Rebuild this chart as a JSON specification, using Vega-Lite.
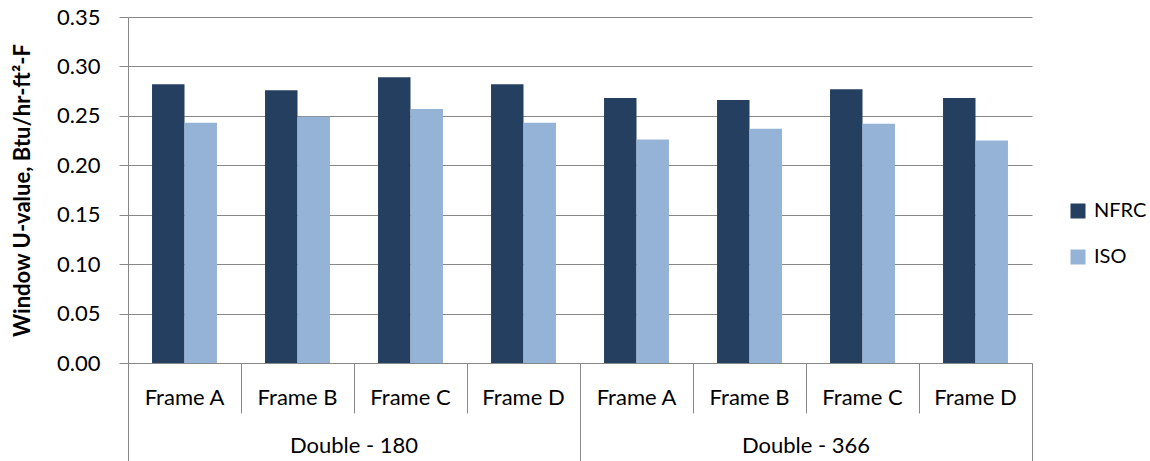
{
  "$schema": "https://vega.github.io/schema/vega-lite/v6.json",
  "width": 904,
  "height": 346,
  "autosize": {"type": "none"},
  "padding": {"left": 128, "top": 17, "right": 118, "bottom": 98},
  "config": {"view": {"stroke": null}, "font": "Lato"},
  "datasets": {
    "bars": [
      {"glass": "Double - 180", "frame": "Frame A", "key": "Double - 180|Frame A", "series": "NFRC", "u": 0.282},
      {"glass": "Double - 180", "frame": "Frame A", "key": "Double - 180|Frame A", "series": "ISO", "u": 0.243},
      {"glass": "Double - 180", "frame": "Frame B", "key": "Double - 180|Frame B", "series": "NFRC", "u": 0.276},
      {"glass": "Double - 180", "frame": "Frame B", "key": "Double - 180|Frame B", "series": "ISO", "u": 0.249},
      {"glass": "Double - 180", "frame": "Frame C", "key": "Double - 180|Frame C", "series": "NFRC", "u": 0.289},
      {"glass": "Double - 180", "frame": "Frame C", "key": "Double - 180|Frame C", "series": "ISO", "u": 0.257},
      {"glass": "Double - 180", "frame": "Frame D", "key": "Double - 180|Frame D", "series": "NFRC", "u": 0.282},
      {"glass": "Double - 180", "frame": "Frame D", "key": "Double - 180|Frame D", "series": "ISO", "u": 0.243},
      {"glass": "Double - 366", "frame": "Frame A", "key": "Double - 366|Frame A", "series": "NFRC", "u": 0.268},
      {"glass": "Double - 366", "frame": "Frame A", "key": "Double - 366|Frame A", "series": "ISO", "u": 0.226},
      {"glass": "Double - 366", "frame": "Frame B", "key": "Double - 366|Frame B", "series": "NFRC", "u": 0.266},
      {"glass": "Double - 366", "frame": "Frame B", "key": "Double - 366|Frame B", "series": "ISO", "u": 0.237},
      {"glass": "Double - 366", "frame": "Frame C", "key": "Double - 366|Frame C", "series": "NFRC", "u": 0.277},
      {"glass": "Double - 366", "frame": "Frame C", "key": "Double - 366|Frame C", "series": "ISO", "u": 0.242},
      {"glass": "Double - 366", "frame": "Frame D", "key": "Double - 366|Frame D", "series": "NFRC", "u": 0.268},
      {"glass": "Double - 366", "frame": "Frame D", "key": "Double - 366|Frame D", "series": "ISO", "u": 0.225}
    ],
    "groups": [{"glass": "Double - 180"}, {"glass": "Double - 366"}],
    "ends": [{"p": 1}]
  },
  "layer": [
    {
      "data": {"name": "bars"},
      "mark": {"type": "bar"},
      "encoding": {
        "x": {
          "field": "key", "type": "nominal", "sort": null,
          "scale": {"paddingInner": 0, "paddingOuter": 0},
          "axis": {
            "orient": "bottom", "title": null,
            "labelExpr": "split(datum.label,'|')[1]",
            "labelAngle": 0, "labelFontSize": 22, "labelColor": "#000", "labelFont": "Lato",
            "labelBaseline": "middle", "labelPadding": -16,
            "tickSize": 50, "tickColor": "#888888", "bandPosition": 0,
            "domainColor": "#888888", "grid": false
          }
        },
        "xOffset": {
          "field": "series", "type": "nominal", "sort": ["NFRC", "ISO"],
          "scale": {"paddingInner": 0, "paddingOuter": 0.74}
        },
        "y": {
          "field": "u", "type": "quantitative",
          "scale": {"domain": [0, 0.35], "nice": false},
          "axis": {
            "title": "Window U-value, Btu/hr-ft²-F",
            "titleFontSize": 22, "titleFontWeight": "bold", "titleColor": "#000", "titleFont": "Lato",
            "titlePadding": 22,
            "values": [0, 0.05, 0.1, 0.15, 0.2, 0.25, 0.3, 0.35],
            "format": ".2f",
            "labelFontSize": 22, "labelColor": "#000", "labelFont": "Lato", "labelPadding": 19,
            "tickSize": 9, "tickColor": "#888888", "domainColor": "#888888",
            "gridColor": "#888888"
          }
        },
        "color": {
          "field": "series", "type": "nominal", "sort": ["NFRC", "ISO"],
          "scale": {"domain": ["NFRC", "ISO"], "range": ["#243F60", "#95B3D7"]},
          "legend": {
            "title": null, "orient": "none", "legendX": 940, "legendY": 184,
            "symbolType": "square", "symbolSize": 225, "symbolStrokeWidth": 0,
            "labelFontSize": 20, "labelColor": "#000", "labelFont": "Lato",
            "labelOffset": 6, "rowPadding": 26
          }
        }
      }
    },
    {
      "data": {"name": "groups"},
      "mark": {"type": "rule", "opacity": 0},
      "encoding": {
        "x": {
          "field": "glass", "type": "nominal",
          "scale": {"paddingInner": 0, "paddingOuter": 0},
          "axis": {
            "orient": "bottom", "title": null, "domain": false,
            "labelAngle": 0, "labelFontSize": 22, "labelColor": "#000", "labelFont": "Lato",
            "labelBaseline": "middle", "labelPadding": -16,
            "tickSize": 98, "tickColor": "#888888", "bandPosition": 0, "grid": false
          }
        }
      }
    },
    {
      "data": {"name": "ends"},
      "mark": {"type": "rule", "opacity": 0},
      "encoding": {
        "x": {
          "field": "p", "type": "quantitative",
          "scale": {"domain": [0, 1], "nice": false, "zero": false},
          "axis": {
            "orient": "bottom", "title": null, "domain": false, "labels": false,
            "values": [1], "tickSize": 98, "tickColor": "#888888", "grid": false
          }
        }
      }
    }
  ],
  "resolve": {"scale": {"x": "independent"}, "axis": {"x": "independent"}}
}
